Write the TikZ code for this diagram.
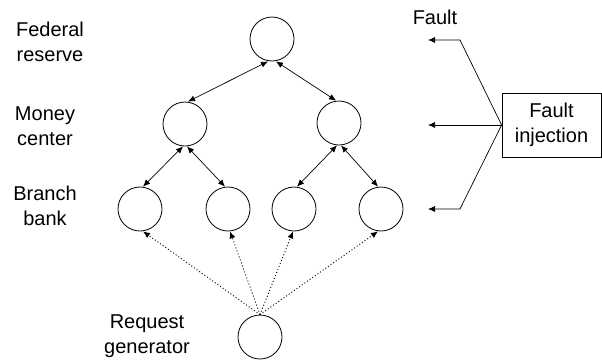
\documentclass[tikz,border=0pt]{standalone}
\usepackage{fontspec}
\setmainfont{Liberation Sans}
\usetikzlibrary{arrows.meta}
\begin{document}
\begin{tikzpicture}[x=1pt,y=-1pt,
  bank/.style={draw,circle,minimum size=44pt,inner sep=0pt,line width=0.8pt},
  lbl/.style={align=center,inner sep=0pt,font=\fontsize{20}{25}\selectfont},
  link/.style={line width=0.7pt,{Latex[length=7pt,width=6pt]}-{Latex[length=7pt,width=6pt]}},
  req/.style={line width=0.9pt,dash pattern=on 1pt off 2.2pt,-{Latex[length=7pt,width=6pt]}},
  inj/.style={line width=0.7pt,-{Latex[length=7pt,width=6pt]}},
  boxed/.style={draw,line width=0.8pt,minimum width=99pt,minimum height=64pt,inner sep=0pt,align=center,font=\fontsize{20}{25}\selectfont}]
\useasboundingbox (0,0) rectangle (602,362);

% level labels (base anchor sits on the last line)
\node[lbl,anchor=base] (lfed) at (50,61) {Federal\\reserve};
\node[lbl,anchor=base] (lmon) at (45,145) {Money\\center};
\node[lbl,anchor=base] (lbra) at (45,225) {Branch\\bank};
\node[lbl,anchor=base] (lreq) at (147,353) {Request\\generator};
\node[lbl,anchor=base] (lfault) at (435,24) {Fault};

% banks
\node[bank] (fr)  at (272,39) {};
\node[bank] (mcl) at (185,124) {};
\node[bank] (mcr) at (339,123) {};
\node[bank] (bb1) at (140,209) {};
\node[bank] (bb2) at (228,209) {};
\node[bank] (bb3) at (294,209) {};
\node[bank] (bb4) at (381,209) {};
\node[bank] (rg)  at (260,337) {};

% fault injector
\node[boxed] (fi) at (551.5,125) {Fault\\injection};

% tree links
\draw[link] ([xshift=-4pt]fr.south) -- ([xshift=3pt]mcl.north);
\draw[link] ([xshift=4pt]fr.south) -- ([xshift=-3pt]mcr.north);
\draw[link] ([xshift=-2pt]mcl.south) -- ([xshift=3pt]bb1.north);
\draw[link] ([xshift=2pt]mcl.south) -- ([xshift=-3pt]bb2.north);
\draw[link] ([xshift=-2pt]mcr.south) -- ([xshift=3pt]bb3.north);
\draw[link] ([xshift=2pt]mcr.south) -- ([xshift=-3pt]bb4.north);

% requests
\draw[req] (rg.north) -- ([xshift=3pt]bb1.south);
\draw[req] (rg.north) -- ([xshift=2pt]bb2.south);
\draw[req] (rg.north) -- ([xshift=-1pt]bb3.south);
\draw[req] (rg.north) -- ([xshift=-3pt]bb4.south);

% injected faults
\coordinate (t1) at (428,40);
\coordinate (k1) at (460,40);
\coordinate (t2) at (428,125);
\coordinate (t3) at (428,209);
\coordinate (k3) at (460,209);
\draw[inj] (fi.west) -- (k1) -- (t1);
\draw[inj] (fi.west) -- (t2);
\draw[inj] (fi.west) -- (k3) -- (t3);
\end{tikzpicture}
\end{document}
